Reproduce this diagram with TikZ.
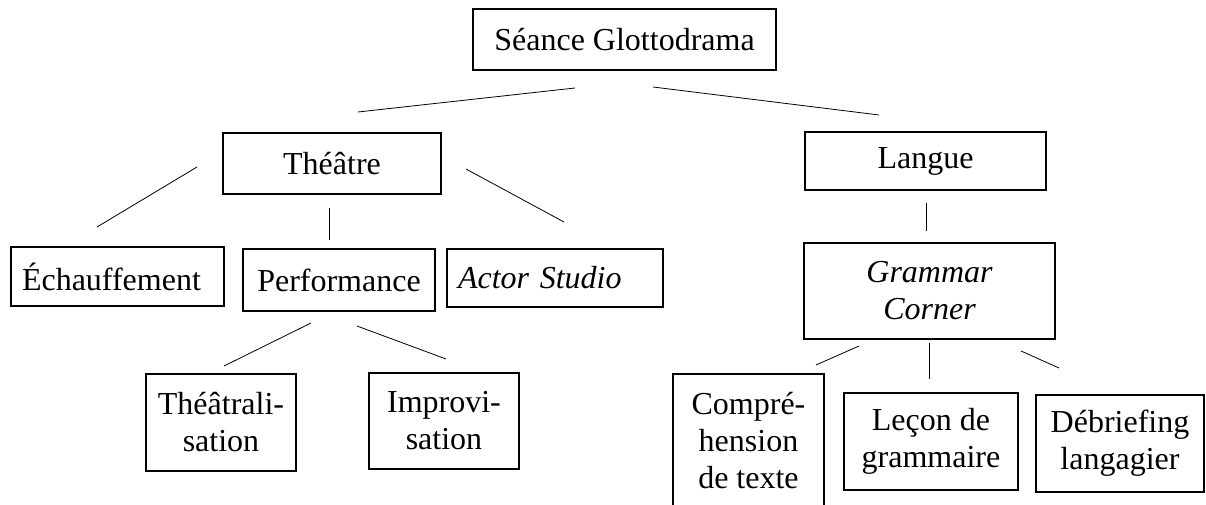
\documentclass[tikz,border=0pt]{standalone}
\usepackage{fontspec}
\setmainfont{Liberation Serif}
\begin{document}
\begin{tikzpicture}[x=1pt,y=-1pt,
  box/.style={draw,line width=1.2pt,rectangle,inner sep=0pt,align=center,
    font=\fontsize{32}{37}\selectfont},
  ital/.style={font=\fontsize{32}{37}\selectfont\itshape},
  link/.style={line width=0.8pt}]
\useasboundingbox (0,0) rectangle (1206,505);
\clip (0,0) rectangle (1206,505);

% top level
\node[box,minimum width=303pt,minimum height=61pt] (seance) at (624.5,39.5) {Séance Glottodrama};

% second level
\node[box,minimum width=218pt,minimum height=61pt] (theatre) at (332,163.5) {Théâtre};
\node[box,minimum width=241pt,minimum height=58pt] (langue) at (925.5,161) {Langue};

% third level, theatre side
\node[box,minimum width=213pt,minimum height=59pt,text width=191pt,align=left] (echauff) at (117.5,276.5) {Échauffement};
\node[box,minimum width=192pt,minimum height=62pt] (perf) at (339,280) {Performance};
\node[box,ital,minimum width=216pt,minimum height=58pt,text width=194pt,align=left] (actor) at (555,278) {Actor Studio};

% third level, language side
\node[box,ital,minimum width=251pt,minimum height=96pt] (grammar) at (929.5,291) {Grammar\\Corner};

% fourth level
\node[box,minimum width=150pt,minimum height=97pt] (theatral) at (221,422.5) {Théâtrali-\\sation};
\node[box,minimum width=150pt,minimum height=96pt] (improv) at (444,421) {Improvi-\\sation};
\node[box,minimum width=151pt,minimum height=134pt] (compr) at (748.5,441) {Compré-\\hension\\de texte};
\node[box,minimum width=174pt,minimum height=97pt] (lecon) at (931,441.5) {Leçon de\\grammaire};
\node[box,minimum width=168pt,minimum height=97pt] (debrief) at (1120,443.5) {Débriefing\\langagier};

% free-standing ends of the connecting strokes
\coordinate (sL) at (575,88);   \coordinate (tT) at (358,112);
\coordinate (sR) at (653,87);   \coordinate (lT) at (879,115);
\coordinate (tE) at (197,167);  \coordinate (eT) at (97,227);
\coordinate (tP) at (329,208);  \coordinate (pT) at (329,240);
\coordinate (tA) at (466,169);  \coordinate (aT) at (564,222);
\coordinate (lG) at (926,203);  \coordinate (gL) at (926,231);
\coordinate (pTh) at (311,323); \coordinate (thP) at (224,366);
\coordinate (pI) at (357,326);  \coordinate (iP) at (446,359);
\coordinate (gC) at (859,346);  \coordinate (cG) at (816,365);
\coordinate (gLe) at (929,343); \coordinate (leG) at (929,379);
\coordinate (gD) at (1021,351); \coordinate (dG) at (1059,368);

\draw[link] (sL) -- (tT);
\draw[link] (sR) -- (lT);
\draw[link] (tE) -- (eT);
\draw[link] (tP) -- (pT);
\draw[link] (tA) -- (aT);
\draw[link] (lG) -- (gL);
\draw[link] (pTh) -- (thP);
\draw[link] (pI) -- (iP);
\draw[link] (gC) -- (cG);
\draw[link] (gLe) -- (leG);
\draw[link] (gD) -- (dG);
\end{tikzpicture}
\end{document}
